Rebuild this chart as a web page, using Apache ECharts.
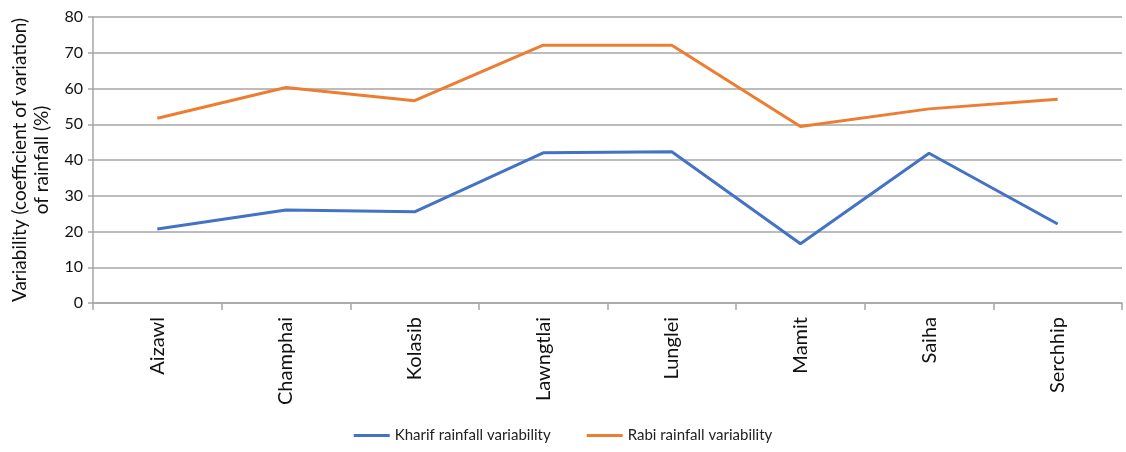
<!DOCTYPE html>
<html>
<head>
<meta charset="utf-8">
<script src="https://cdn.jsdelivr.net/npm/echarts@6/dist/echarts.min.js"></script>
<style>
  html, body { margin: 0; padding: 0; background: #fff; }
  #chart { width: 1126px; height: 452px; }
</style>
</head>
<body>
<div id="chart"></div>
<script>
// Districts of Mizoram
const districts = ['Aizawl', 'Champhai', 'Kolasib', 'Lawngtlai', 'Lunglei', 'Mamit', 'Saiha', 'Serchhip'];
// Coefficient of variation of seasonal rainfall (%)
const kharif = [20.7, 26.0, 25.5, 42.0, 42.3, 16.6, 41.9, 22.1];
const rabi = [51.7, 60.3, 56.6, 72.1, 72.1, 49.4, 54.3, 57.0];
const yTicks = { min: 0, max: 80, interval: 10 };

const font = 'Lato, "Liberation Sans", sans-serif';
const gridColor = '#a6a6a6';

const chart = echarts.init(document.getElementById('chart'), null, { renderer: 'canvas' });
chart.setOption({
  animation: false,
  textStyle: { fontFamily: font },
  grid: { left: 93, right: 4, top: 17, bottom: 149, containLabel: false, outerBoundsMode: 'none' },
  legend: {
    bottom: 4,
    left: 'center',
    itemGap: 36,
    itemWidth: 36,
    itemHeight: 3,
    icon: 'rect',
    textStyle: { fontSize: 15, color: '#222', fontFamily: font },
    data: ['Kharif rainfall variability', 'Rabi rainfall variability']
  },
  xAxis: {
    type: 'category',
    data: districts,
    boundaryGap: true,
    axisLine: { lineStyle: { color: gridColor, width: 1.5 } },
    axisTick: { show: true, length: 7, alignWithLabel: false, lineStyle: { color: gridColor, width: 1.5 } },
    axisLabel: { rotate: 90, margin: 14, fontSize: 20, color: '#111', fontFamily: font, interval: 0 }
  },
  yAxis: {
    type: 'value',
    min: yTicks.min,
    max: yTicks.max,
    interval: yTicks.interval,
    name: 'Variability (coefficient of variation)\nof rainfall (%)',
    nameLocation: 'middle',
    nameRotate: 90,
    nameGap: 40,
    nameTextStyle: { fontSize: 19, color: '#111', lineHeight: 22, fontFamily: font },
    axisLine: { show: true, lineStyle: { color: gridColor, width: 1.5 } },
    axisTick: { show: true, length: 5, lineStyle: { color: gridColor, width: 1.5 } },
    axisLabel: { fontSize: 16, color: '#111', margin: 10, fontFamily: font },
    splitLine: { lineStyle: { color: gridColor, width: 1.5 } }
  },
  series: [
    {
      name: 'Kharif rainfall variability',
      type: 'line',
      data: kharif,
      symbol: 'none',
      lineStyle: { color: '#4472C4', width: 3 },
      itemStyle: { color: '#4472C4' }
    },
    {
      name: 'Rabi rainfall variability',
      type: 'line',
      data: rabi,
      symbol: 'none',
      lineStyle: { color: '#ED7D31', width: 3 },
      itemStyle: { color: '#ED7D31' }
    }
  ]
});
</script>
</body>
</html>
